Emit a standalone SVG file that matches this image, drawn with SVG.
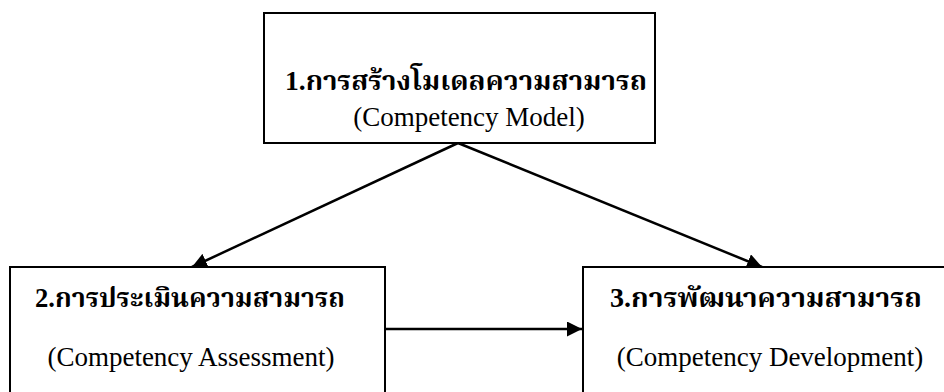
<svg xmlns="http://www.w3.org/2000/svg" width="944" height="392" viewBox="0 0 944 392">
<style>
.box{fill:#fff;stroke:#000;stroke-width:2}
.th{font-family:"Liberation Serif","Noto Serif Thai","Noto Sans Thai","Noto Sans","DejaVu Sans",serif;font-weight:bold;font-size:27px;fill:#000;text-anchor:middle}
.en{font-family:"Liberation Serif",serif;font-size:27px;fill:#000;text-anchor:middle}
.ln{stroke:#000;stroke-width:2.5;fill:none;marker-end:url(#ah)}
</style>
<defs>
<marker id="ah" viewBox="0 0 10 10" refX="10" refY="5" markerWidth="6" markerHeight="6" markerUnits="strokeWidth" orient="auto">
<path d="M0,0 L10,5 L0,10 z" fill="#000"/>
</marker>
</defs>
<rect width="944" height="392" fill="#fff"/>
<g id="connectors">
<line class="ln" x1="458" y1="143" x2="192" y2="267"/>
<line class="ln" x1="458" y1="143" x2="762" y2="267"/>
<line class="ln" x1="385" y1="329" x2="582" y2="329"/>
</g>
<g id="node1">
<rect class="box" x="264" y="13" width="391" height="130"/>
<text class="th" x="466" y="90" textLength="362" lengthAdjust="spacingAndGlyphs">1.การสร้างโมเดลความสามารถ</text>
<text class="en" x="469" y="126">(Competency Model)</text>
</g>
<g id="node2">
<rect class="box" x="10" y="267" width="375" height="140"/>
<text class="th" x="190" y="307" textLength="310" lengthAdjust="spacingAndGlyphs">2.การประเมินความสามารถ</text>
<text class="en" x="191" y="366">(Competency Assessment)</text>
</g>
<g id="node3">
<rect class="box" x="583" y="267" width="380" height="140"/>
<text class="th" x="766" y="307" textLength="312" lengthAdjust="spacingAndGlyphs">3.การพัฒนาความสามารถ</text>
<text class="en" x="770" y="366">(Competency Development)</text>
</g>
</svg>
